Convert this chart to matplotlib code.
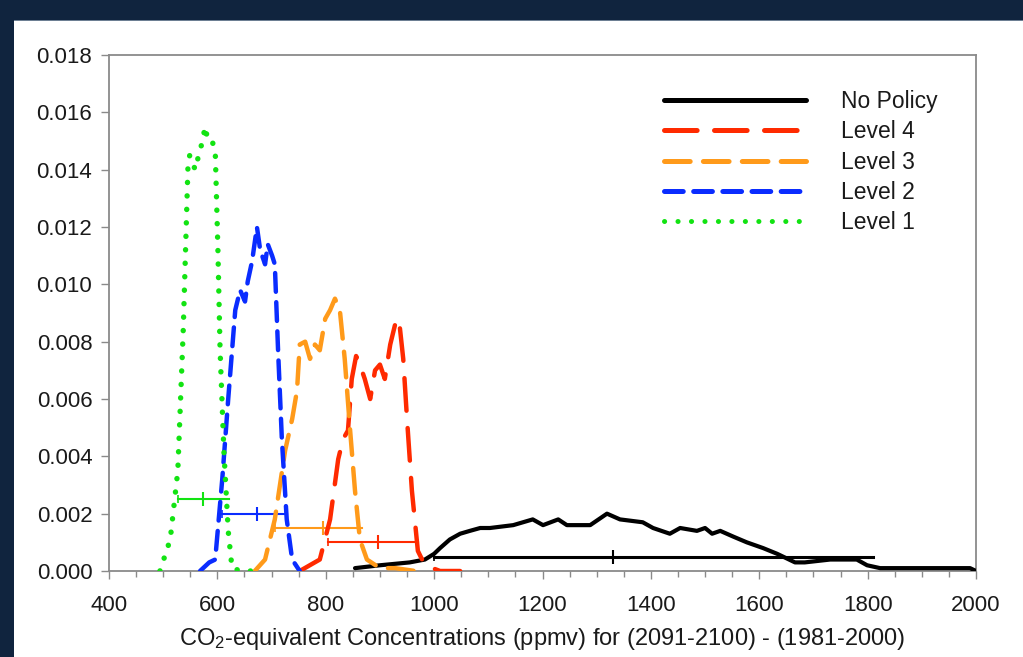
import matplotlib
matplotlib.use("Agg")
import matplotlib.pyplot as plt
from matplotlib.patches import Rectangle
from matplotlib.ticker import MultipleLocator, FormatStrFormatter

plt.rcParams["font.family"] = ["Liberation Sans", "DejaVu Sans"]
plt.rcParams["mathtext.fontset"] = "custom"
plt.rcParams["mathtext.rm"] = "Liberation Sans"
plt.rcParams["mathtext.default"] = "regular"
plt.rcParams["lines.scale_dashes"] = False

NAVY = "#10243e"
INK = "#1a1a1a"
SPINE = "#8a8a8a"

# --- data ----------------------------------------------------------------
NP_X = [854, 900, 955, 983, 1000, 1011, 1029, 1048, 1066, 1085, 1103, 1146, 1182,
        1201, 1229, 1245, 1288, 1319, 1343, 1385, 1404, 1435, 1454, 1485, 1500,
        1513, 1528, 1552, 1577, 1607, 1633, 1666, 1684, 1731, 1780, 1799, 1823,
        1860, 1933, 1989, 2000]
NP_Y = [0.0001, 0.0002, 0.0003, 0.0004, 0.0006, 0.0008, 0.0011, 0.0013, 0.0014,
        0.0015, 0.0015, 0.0016, 0.0018, 0.0016, 0.0018, 0.0016, 0.0016, 0.0020,
        0.0018, 0.0017, 0.0015, 0.0013, 0.0015, 0.0014, 0.0015, 0.0013, 0.0014,
        0.0012, 0.0010, 0.0008, 0.0006, 0.0003, 0.0003, 0.0004, 0.0004, 0.0002,
        0.0001, 0.0001, 0.0001, 0.0001, 0.0000]

L4_X = [752, 789, 808, 823, 832, 841, 848, 856, 863, 872, 882, 891, 900, 909, 919,
        928, 935, 943, 950, 959, 970, 983, 1011, 1048]
L4_Y = [0.0, 0.0004, 0.0018, 0.0039, 0.0046, 0.0049, 0.0067, 0.0075, 0.0072,
        0.0067, 0.0060, 0.0070, 0.0072, 0.0067, 0.0079, 0.0086, 0.0088, 0.0074,
        0.0053, 0.0028, 0.0007, 0.0002, 0.0, 0.0]

L3_X = [669, 688, 706, 725, 738, 747, 752, 762, 771, 780, 789, 799, 808, 817, 826,
        835, 845, 854, 863, 876, 900, 928, 965]
L3_Y = [0.0, 0.0004, 0.0018, 0.0042, 0.0053, 0.0063, 0.0079, 0.0080, 0.0074,
        0.0079, 0.0077, 0.0088, 0.0091, 0.0095, 0.0091, 0.0074, 0.0049, 0.0028,
        0.0011, 0.0004, 0.0001, 0.0001, 0.0]

L2_X = [568, 585, 596, 609, 620, 633, 642, 651, 656, 664, 673, 679, 688, 693, 701,
        706, 712, 719, 728, 738, 752]
L2_Y = [0.0, 0.0003, 0.0004, 0.0032, 0.0060, 0.0091, 0.0098, 0.0094, 0.0101,
        0.0108, 0.0120, 0.0112, 0.0107, 0.0114, 0.0110, 0.0107, 0.0077, 0.0046,
        0.0018, 0.0004, 0.0]

L1_X = [494, 513, 527, 537, 546, 549, 559, 568, 573, 577, 583, 590, 596, 601, 605,
        612, 620, 627, 644, 675]
L1_Y = [0.0, 0.0011, 0.0035, 0.0084, 0.0143, 0.0145, 0.0140, 0.0147, 0.0150,
        0.0155, 0.0150, 0.0150, 0.0147, 0.0112, 0.0077, 0.0042, 0.0014, 0.0001,
        0.0, 0.0]

# range bars: low, median, high, height  (No Policy, Level 4 .. Level 1)
BAR_LO = [1000, 804, 706, 609, 527]
BAR_MID = [1330, 896, 795, 673, 573]
BAR_HI = [1810, 970, 867, 728, 622]
BAR_Y = [0.0005, 0.0010, 0.0015, 0.0020, 0.0025]

LABELS = ["No Policy", "Level 4", "Level 3", "Level 2", "Level 1"]
COLORS = ["#000000", "#ff2a00", "#ff9a1a", "#0a2cff", "#12e312"]
DASHES = [None, (0, (23.5, 12.5)), (0, (18.5, 9.5)), (0, (13.5, 7.5)), (0, (0.1, 9.6))]
WIDTHS = [3.0, 3.2, 3.2, 3.2, 3.9]


def main():
    fig = plt.figure(figsize=(10.23, 6.57), dpi=100)
    fig.patch.set_facecolor(NAVY)
    # white slide panel
    fig.add_artist(Rectangle((14 / 1023, 0), 1, 637 / 657, transform=fig.transFigure,
                             fc="white", ec="none", zorder=0))
    fig.add_artist(Rectangle((14 / 1023, 636 / 657), 1, 1.5 / 657, transform=fig.transFigure,
                             fc="#6d7f93", ec="none", zorder=0))

    ax = fig.add_axes([109 / 1023, 1 - 571 / 657, 867 / 1023, 516 / 657])
    ax.set_facecolor("white")

    series = [(NP_X, NP_Y), (L4_X, L4_Y), (L3_X, L3_Y), (L2_X, L2_Y), (L1_X, L1_Y)]
    handles = []
    for i in range(4, -1, -1):
        xs, ys = series[i]
        if DASHES[i] is None:
            h, = ax.plot(xs, ys, color=COLORS[i], lw=WIDTHS[i], solid_capstyle="round",
                         solid_joinstyle="round", zorder=3 + i)
        else:
            h, = ax.plot(xs, ys, color=COLORS[i], lw=WIDTHS[i], linestyle=DASHES[i],
                         dash_capstyle="round", dash_joinstyle="round", zorder=3 + i)
        handles.append(h)

        # 5-95% range bar with a tick at the median
        lw_bar = 2.2 if i == 0 else 1.5
        ax.plot([BAR_LO[i], BAR_HI[i]], [BAR_Y[i], BAR_Y[i]], color=COLORS[i],
                lw=lw_bar, zorder=2)
        ax.plot([BAR_MID[i]], [BAR_Y[i]], marker="|", ms=10, mew=1.5,
                color=COLORS[i], zorder=2)
        ax.plot([BAR_LO[i]], [BAR_Y[i]], marker="|", ms=6, mew=1.2,
                color=COLORS[i], zorder=2)

    handles = handles[::-1]
    leg = ax.legend(handles, LABELS, loc="upper right", bbox_to_anchor=(0.956, 0.932),
                    frameon=False, fontsize=16.5, handlelength=6.2, handletextpad=1.55,
                    labelspacing=0.32, borderaxespad=0, borderpad=0)
    for t in leg.get_texts():
        t.set_color(INK)
    for lh in leg.get_lines():
        lh.set_linewidth(3.6)

    ax.set_xlim(400, 2000)
    ax.set_ylim(0, 0.018)
    ax.xaxis.set_major_locator(MultipleLocator(200))
    ax.xaxis.set_minor_locator(MultipleLocator(50))
    ax.yaxis.set_major_locator(MultipleLocator(0.002))
    ax.yaxis.set_major_formatter(FormatStrFormatter("%.3f"))

    for s in ax.spines.values():
        s.set_color(SPINE)
        s.set_linewidth(1.3)
    ax.tick_params(axis="both", which="major", direction="out", length=6, width=1,
                   color=SPINE, labelsize=16, labelcolor=INK)
    ax.tick_params(axis="x", which="major", pad=11)
    ax.tick_params(axis="y", which="major", pad=6)
    ax.tick_params(axis="x", which="minor", direction="out", length=4, width=1, color=SPINE)

    ax.set_xlabel("CO$_2$-equivalent Concentrations (ppmv) for (2091-2100) - (1981-2000)",
                  fontsize=17, color=INK)
    ax.xaxis.label.set_va("center")
    ax.xaxis.set_label_coords(0.5, -(639 - 571) / 516)

    fig.savefig("out.png", dpi=100, facecolor=NAVY)


if __name__ == "__main__":
    main()
